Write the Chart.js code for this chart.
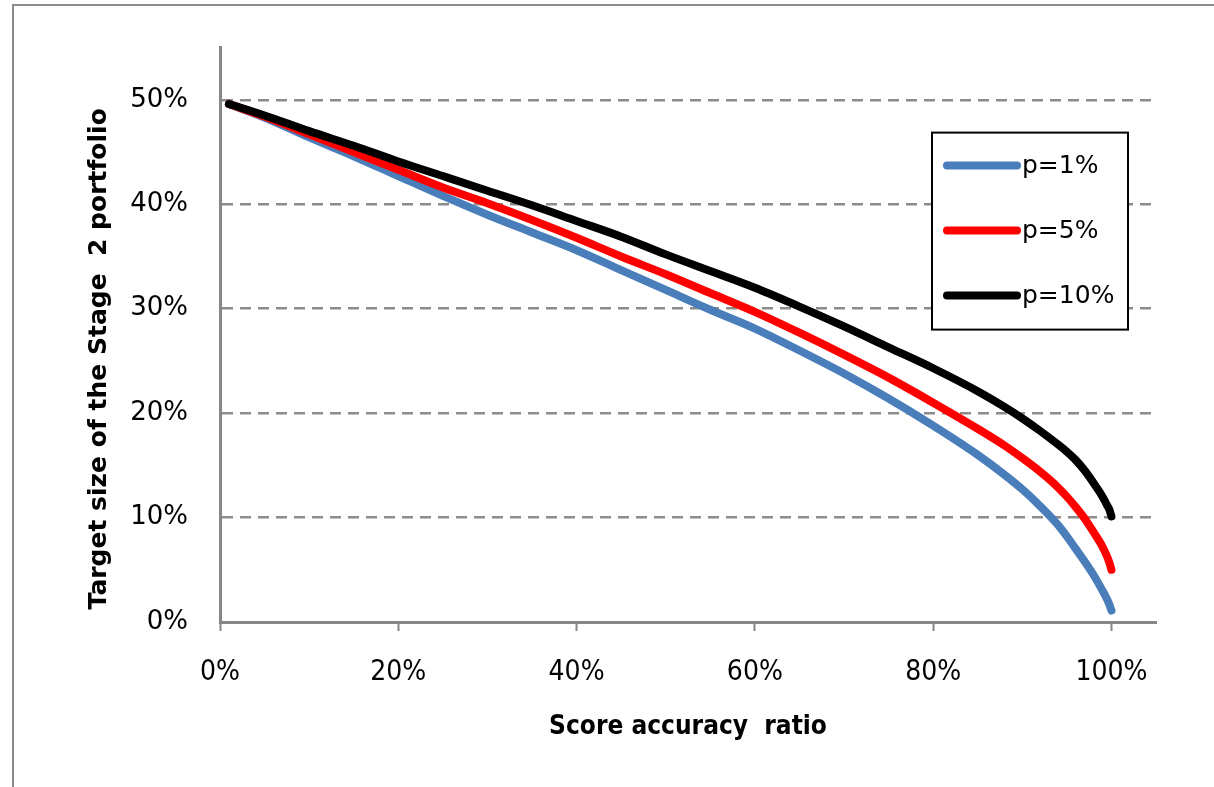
<!DOCTYPE html>
<html>
<head>
<meta charset="utf-8">
<script src="https://cdn.jsdelivr.net/npm/chart.js@4.4.0/dist/chart.umd.min.js"></script>
<style>
  html, body { margin: 0; padding: 0; background: #fff; }
</style>
</head>
<body>
<canvas id="myChart" width="1214" height="787"></canvas>
<script>
// score accuracy ratio (%) and target size of the Stage 2 portfolio (%)
const accuracyRatio = [1, 5, 10, 15, 20, 25, 30, 35, 40, 45, 50, 55, 60, 65, 70, 75, 80, 85, 88, 90, 92, 94, 95, 96, 97, 98, 99, 99.5, 99.8, 100];
const sizeP1  = [49.6, 48.3, 46.4, 44.6, 42.7, 40.8, 39.0, 37.3, 35.6, 33.7, 31.8, 29.9, 28.1, 26.0, 23.8, 21.4, 18.8, 16.0, 14.1, 12.7, 11.1, 9.3, 8.2, 7.0, 5.8, 4.5, 3.0, 2.2, 1.6, 1.1];
const sizeP5  = [49.6, 48.4, 46.7, 45.0, 43.3, 41.6, 40.1, 38.5, 36.8, 35.0, 33.3, 31.5, 29.7, 27.7, 25.6, 23.4, 21.0, 18.5, 16.9, 15.7, 14.4, 12.9, 12.0, 11.0, 9.9, 8.6, 7.2, 6.3, 5.6, 5.0];
const sizeP10 = [49.6, 48.5, 47.0, 45.6, 44.1, 42.7, 41.3, 39.9, 38.4, 36.9, 35.2, 33.6, 32.0, 30.2, 28.3, 26.3, 24.3, 22.1, 20.6, 19.5, 18.3, 17.0, 16.3, 15.5, 14.5, 13.3, 12.0, 11.2, 10.7, 10.1];

const seriesLabels = ['p=1%', 'p=5%', 'p=10%'];
const seriesColors = ['#4a7ebb', '#ff0000', '#000000'];

const xTitle = 'Score accuracy  ratio';
const yTitle = 'Target size of the Stage  2 portfolio';

const gridGray = '#8c8c8c';
const axisGray = '#868686';
const condensed = "'DejaVu Sans Condensed', 'DejaVu Sans', sans-serif";
const wide = "'DejaVu Sans', Verdana, sans-serif";

const toPoints = ys => accuracyRatio.map((x, i) => ({x: x, y: ys[i]}));

// frame, axis titles and the boxed legend inside the plot
const decor = {
  id: 'decor',
  beforeDraw(chart) {
    const c = chart.ctx;
    c.save();
    c.fillStyle = '#fff';
    c.fillRect(0, 0, chart.width, chart.height);
    c.strokeStyle = gridGray;
    c.lineWidth = 2;
    c.beginPath();
    c.moveTo(13, chart.height + 5);
    c.lineTo(13, 5);
    c.lineTo(chart.width + 5, 5);
    c.stroke();
    c.restore();
  },
  afterDatasetsDraw(chart) {
    const c = chart.ctx;
    const a = chart.chartArea;
    c.save();

    // legend
    const bx = a.right - 224, by = a.top + 85, bw = 196, bh = 197;
    c.fillStyle = '#fff';
    c.fillRect(bx, by, bw, bh);
    c.strokeStyle = '#000';
    c.lineWidth = 2;
    c.strokeRect(bx, by, bw, bh);
    chart.data.datasets.forEach((ds, i) => {
      const ry = by + 33 + i * 65;
      c.strokeStyle = ds.borderColor;
      c.lineWidth = 8;
      c.lineCap = 'round';
      c.beginPath();
      c.moveTo(bx + 15, ry);
      c.lineTo(bx + 85, ry);
      c.stroke();
      c.fillStyle = '#000';
      c.font = '25px ' + wide;
      c.textAlign = 'left';
      c.textBaseline = 'middle';
      c.fillText(ds.label, bx + 90, ry + 1);
    });

    // axis titles
    c.fillStyle = '#000';
    c.textAlign = 'center';
    c.textBaseline = 'middle';
    c.font = 'bold 26px ' + condensed;
    c.fillText(xTitle, (a.left + a.right) / 2, a.bottom + 105);
    c.font = 'bold 25px ' + wide;
    c.translate(99, (a.top + a.bottom) / 2 + 24);
    c.rotate(-Math.PI / 2);
    c.fillText(yTitle, 0, 0);
    c.restore();
  }
};

new Chart(document.getElementById('myChart'), {
  type: 'line',
  data: {
    datasets: [
      {label: seriesLabels[0], data: toPoints(sizeP1), borderColor: seriesColors[0], order: 2},
      {label: seriesLabels[1], data: toPoints(sizeP5), borderColor: seriesColors[1], order: 1},
      {label: seriesLabels[2], data: toPoints(sizeP10), borderColor: seriesColors[2], order: 0}
    ]
  },
  options: {
    responsive: false,
    animation: false,
    devicePixelRatio: 1,
    layout: {padding: {left: 0, right: 58, top: 45, bottom: 0}},
    elements: {
      line: {borderWidth: 8, borderCapStyle: 'round', borderJoinStyle: 'round', cubicInterpolationMode: 'monotone', fill: false},
      point: {radius: 0, hoverRadius: 0}
    },
    plugins: {
      legend: {display: false},
      tooltip: {enabled: false}
    },
    scales: {
      x: {
        type: 'linear',
        min: 0,
        max: 105,
        afterFit(s) { s.height = 165; },
        ticks: {
          stepSize: 20,
          includeBounds: false,
          maxRotation: 0,
          padding: 25,
          color: '#000',
          font: {family: condensed, size: 28},
          callback: v => v + '%'
        },
        grid: {drawOnChartArea: false, drawTicks: true, tickLength: 9, tickWidth: 2, tickColor: axisGray},
        border: {color: axisGray, width: 3}
      },
      y: {
        min: 0,
        max: 55,
        afterFit(s) { s.width = 220; },
        ticks: {
          stepSize: 10,
          includeBounds: false,
          padding: 32,
          color: '#000',
          font: {family: wide, size: 26},
          callback: v => v + '%'
        },
        grid: {
          drawTicks: false,
          lineWidth: 2.5,
          color: c => c.tick && c.tick.value === 0 ? 'rgba(0,0,0,0)' : gridGray
        },
        border: {color: axisGray, width: 3, dash: [11, 7]}
      }
    }
  },
  plugins: [decor]
});
</script>
</body>
</html>
